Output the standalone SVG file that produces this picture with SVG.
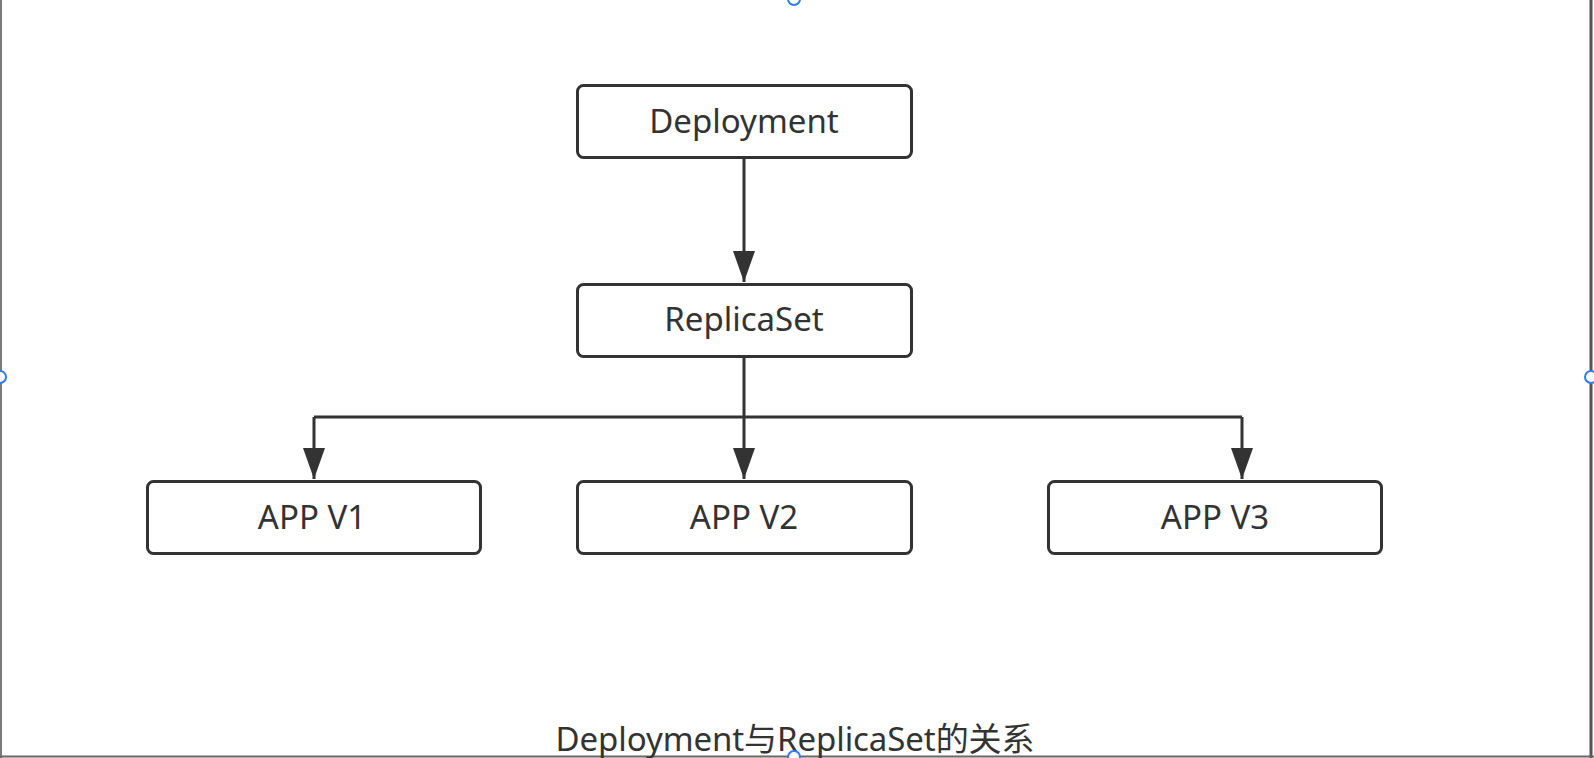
<svg xmlns="http://www.w3.org/2000/svg" width="1594" height="758" viewBox="0 0 1594 758">
<style>
.box{fill:#fff;stroke:#333;stroke-width:3}
.lbl{font-family:"Noto Sans","Liberation Sans",sans-serif;font-size:33px;fill:#333;text-anchor:middle}
.conn{fill:none;stroke:#333;stroke-width:3}
.handle{fill:#fff;stroke:#2f7bf0;stroke-width:2}
</style>
<defs>
<marker id="ah" markerWidth="32" markerHeight="22" viewBox="0 0 32 22" refX="31" refY="11" orient="auto" markerUnits="userSpaceOnUse">
<path d="M0,0 L31,11 L0,22 Z" fill="#333"/>
</marker>
</defs>
<rect x="0" y="0" width="1594" height="758" fill="#fff"/>
<line x1="1" y1="0" x2="1" y2="758" stroke="#7a7a7a" stroke-width="2"/>
<line x1="1591" y1="0" x2="1591" y2="758" stroke="#555" stroke-width="3"/>
<line x1="0" y1="756.5" x2="1594" y2="756.5" stroke="#666" stroke-width="2"/>
<g id="connectors">
<path class="conn" d="M744,158 V282" marker-end="url(#ah)"/>
<path class="conn" d="M744,357 V479" marker-end="url(#ah)"/>
<path class="conn" d="M314,417 H1242"/>
<path class="conn" d="M314,417 V479" marker-end="url(#ah)"/>
<path class="conn" d="M1242,417 V479" marker-end="url(#ah)"/>
</g>
<g id="deployment">
<rect class="box" x="577.5" y="85.5" width="334" height="72" rx="6"/>
<text class="lbl" x="744" y="133">Deployment</text>
</g>
<g id="replicaset">
<rect class="box" x="577.5" y="284.5" width="334" height="72" rx="6"/>
<text class="lbl" x="744" y="331">ReplicaSet</text>
</g>
<g id="appv1">
<rect class="box" x="147.5" y="481.5" width="333" height="72" rx="6"/>
<text class="lbl" x="312" y="529">APP V1</text>
</g>
<g id="appv2">
<rect class="box" x="577.5" y="481.5" width="334" height="72" rx="6"/>
<text class="lbl" x="744" y="529">APP V2</text>
</g>
<g id="appv3">
<rect class="box" x="1048.5" y="481.5" width="333" height="72" rx="6"/>
<text class="lbl" x="1215" y="529">APP V3</text>
</g>
<g id="title">
<text x="795" y="751" font-family="'Noto Sans','Noto Sans CJK SC',sans-serif" font-size="33" fill="#333" text-anchor="middle" textLength="479">Deployment与ReplicaSet的关系</text>
</g>
<circle class="handle" cx="794" cy="-1" r="6"/>
<circle class="handle" cx="0" cy="377" r="6"/>
<circle class="handle" cx="1591" cy="377" r="6"/>
<circle class="handle" cx="794" cy="757" r="6"/>
</svg>
